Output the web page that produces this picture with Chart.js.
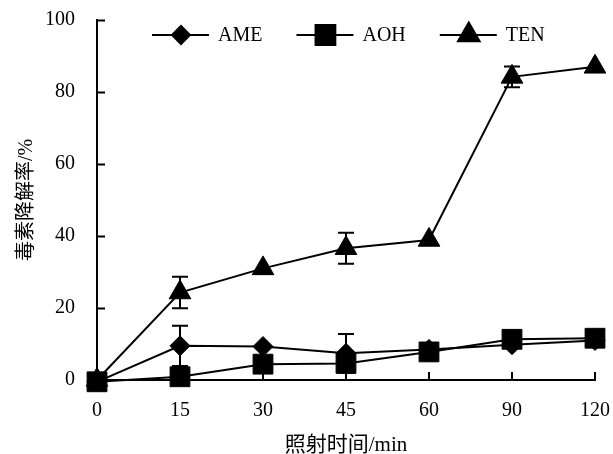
<!DOCTYPE html>
<html>
<head>
<meta charset="utf-8">
<script src="https://cdn.jsdelivr.net/npm/chart.js"></script>
<style>
  html, body { margin: 0; padding: 0; background: #fff; }
  #wrap { width: 613px; height: 454px; }
</style>
</head>
<body>
<div id="wrap"><canvas id="c" width="613" height="454"></canvas></div>
<script>
// 照射时间 (min) - equally spaced categories
const times = ['0', '15', '30', '45', '60', '90', '120'];

// 毒素降解率 (%)
const ameValues = [-0.5, 9.5, 9.3, 7.4, 8.5, 9.8, 11.0];
const aohValues = [-0.5, 0.9, 4.4, 4.6, 7.8, 11.3, 11.6];
const tenValues = [0, 24.3, 31.0, 36.6, 38.9, 84.2, 87.0];

// error bar half-heights
const ameErr = [0, 5.6, 0, 5.4, 0, 0, 0];
const aohErr = [0, 0, 0, 0, 0, 0, 0];
const tenErr = [0, 4.4, 0, 4.3, 0, 2.9, 0];

const yTicks = [0, 20, 40, 60, 80, 100];

const FONT = '"Liberation Serif", "Times New Roman", "Noto Sans CJK SC", serif';

// error bars under the markers
const errorBars = {
    id: 'errorBars',
    beforeDatasetsDraw(chart) {
        const ctx = chart.ctx;
        const y = chart.scales.y;
        ctx.save();
        ctx.strokeStyle = '#000';
        ctx.lineWidth = 2;
        chart.data.datasets.forEach((ds, i) => {
            const meta = chart.getDatasetMeta(i);
            ds.errors.forEach((e, j) => {
                if (!e) return;
                const x = meta.data[j].x;
                const top = y.getPixelForValue(ds.data[j] + e);
                const bot = y.getPixelForValue(ds.data[j] - e);
                ctx.beginPath();
                ctx.moveTo(x, top); ctx.lineTo(x, bot);
                ctx.moveTo(x - 8, top); ctx.lineTo(x + 8, top);
                ctx.moveTo(x - 8, bot); ctx.lineTo(x + 8, bot);
                ctx.stroke();
            });
        });
        ctx.restore();
    }
};

// inward tick marks on both axes
const innerTicks = {
    id: 'innerTicks',
    afterDraw(chart) {
        const ctx = chart.ctx;
        const {x, y} = chart.scales;
        const area = chart.chartArea;
        ctx.save();
        ctx.strokeStyle = '#000';
        ctx.lineWidth = 2;
        ctx.beginPath();
        yTicks.forEach(v => {
            const py = Math.round(y.getPixelForValue(v)) + 0.5;
            ctx.moveTo(area.left, py); ctx.lineTo(area.left + 8, py);
        });
        times.forEach((t, i) => {
            const px = x.getPixelForValue(i);
            ctx.moveTo(px, area.bottom); ctx.lineTo(px, area.bottom - 8);
        });
        ctx.stroke();
        ctx.restore();
    }
};

// legend: line through marker, then label
const lineLegend = {
    id: 'lineLegend',
    afterDraw(chart) {
        const ctx = chart.ctx;
        const cy = 35;
        let cx = 152;
        ctx.save();
        ctx.font = '20px ' + FONT;
        ctx.textBaseline = 'middle';
        ctx.fillStyle = '#000';
        chart.data.datasets.forEach(ds => {
            ctx.strokeStyle = '#000';
            ctx.lineWidth = 2;
            ctx.beginPath();
            ctx.moveTo(cx, cy); ctx.lineTo(cx + 57, cy);
            ctx.stroke();
            Chart.helpers.drawPoint(ctx, {
                pointStyle: ds.pointStyle,
                radius: ds.legendRadius,
                rotation: 0,
                borderWidth: 1
            }, cx + 29, cy);
            ctx.fillStyle = '#000';
            ctx.fillText(ds.label, cx + 66, cy + 1);
            cx += 66 + ctx.measureText(ds.label).width + 34;
        });
        ctx.restore();
    }
};

function series(label, data, errors, style, radius, legendRadius) {
    return {
        label: label,
        data: data,
        errors: errors,
        pointStyle: style,
        pointRadius: radius,
        pointHoverRadius: radius,
        legendRadius: legendRadius,
        borderColor: '#000',
        backgroundColor: '#000',
        pointBackgroundColor: '#000',
        pointBorderColor: '#000',
        pointBorderWidth: 1,
        borderWidth: 2,
        tension: 0,
        fill: false,
        clip: false
    };
}

new Chart(document.getElementById('c').getContext('2d'), {
    type: 'line',
    data: {
        labels: times,
        datasets: [
            series('AME', ameValues, ameErr, 'rectRot', 10, 9),
            series('AOH', aohValues, aohErr, 'rect', 14, 14),
            series('TEN', tenValues, tenErr, 'triangle', 12.5, 12.5)
        ]
    },
    options: {
        responsive: false,
        animation: false,
        layout: { padding: { top: 20, right: 18, left: 0, bottom: 0 } },
        plugins: {
            legend: { display: false },
            tooltip: { enabled: false }
        },
        scales: {
            x: {
                type: 'category',
                offset: false,
                grid: { display: false },
                border: { display: true, color: '#000', width: 2 },
                ticks: {
                    color: '#000',
                    padding: 11,
                    maxRotation: 0,
                    font: { family: FONT, size: 20 }
                },
                title: {
                    display: true,
                    text: '照射时间/min',
                    color: '#000',
                    padding: { top: 0, bottom: -4 },
                    font: { family: FONT, size: 21 }
                },
                afterFit(scale) {
                    scale.height = 74;
                    scale.paddingLeft = 0;
                    scale.paddingRight = 0;
                }
            },
            y: {
                min: 0,
                max: 100,
                grid: { display: false },
                border: { display: true, color: '#000', width: 2 },
                afterBuildTicks(scale) { scale.ticks = yTicks.map(v => ({ value: v })); },
                ticks: {
                    color: '#000',
                    padding: 14,
                    font: { family: FONT, size: 20 }
                },
                title: {
                    display: true,
                    text: '毒素降解率/%',
                    color: '#000',
                    padding: { top: 15, bottom: 0 },
                    font: { family: FONT, size: 20 }
                },
                afterFit(scale) {
                    scale.width = 97;
                    scale.paddingTop = 0;
                    scale.paddingBottom = 0;
                }
            }
        }
    },
    plugins: [errorBars, innerTicks, lineLegend]
});
</script>
</body>
</html>
